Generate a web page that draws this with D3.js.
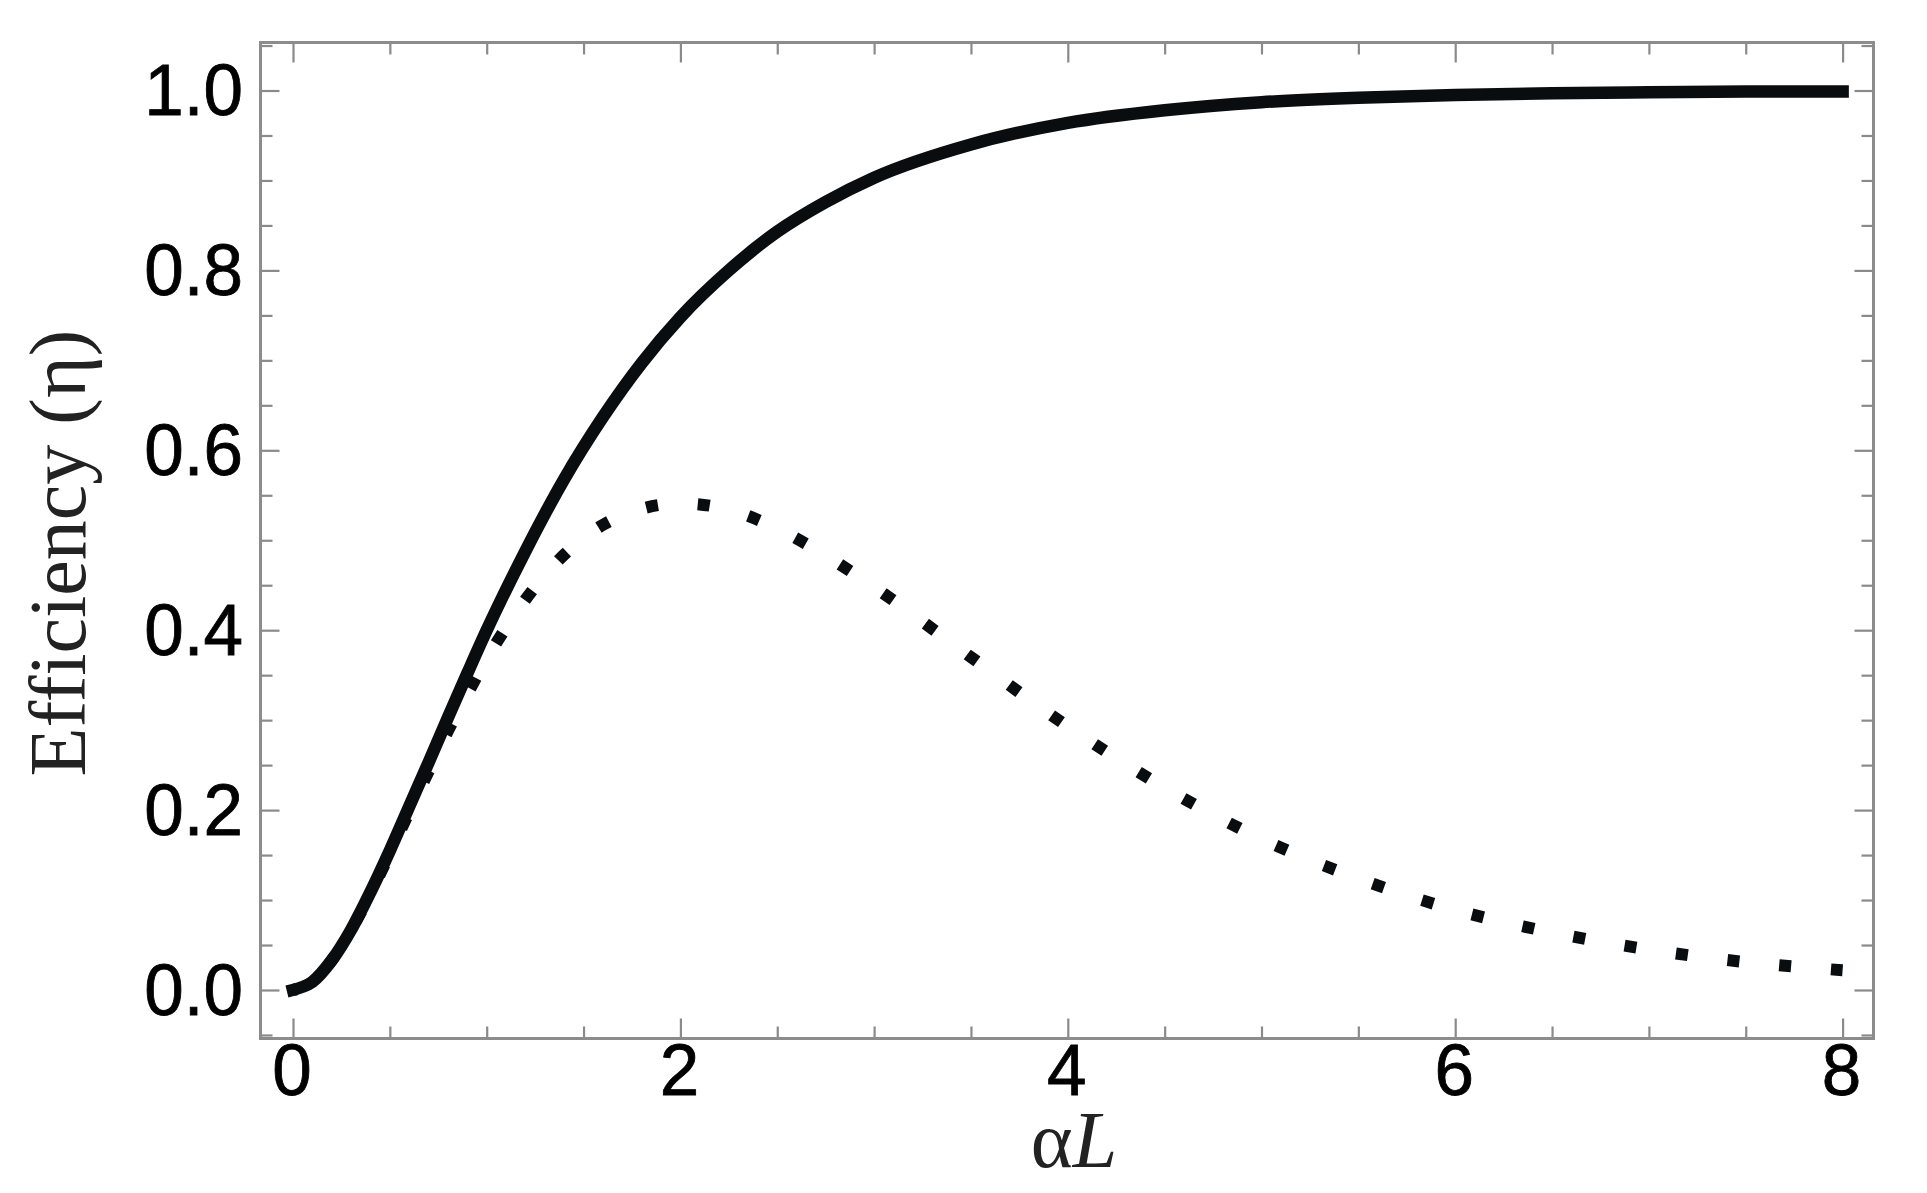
<!DOCTYPE html>
<html>
<head>
<meta charset="utf-8">
<script src="https://cdn.jsdelivr.net/npm/d3@7"></script>
<style>
  html, body { margin: 0; padding: 0; background: #fff; }
  svg { display: block; }
</style>
</head>
<body>
<svg id="chart" width="1927" height="1193"></svg>
<script>
// ---- data ----
const alphaL = [0, 0.1, 0.2, 0.3, 0.4, 0.5, 0.6, 0.7, 0.8, 0.9, 1.0, 1.2, 1.4, 1.6, 1.8, 2.0,
                2.25, 2.5, 2.75, 3.0, 3.5, 4.0, 4.5, 5.0, 5.5, 6.0, 6.5, 7.0, 7.5, 8.0];
const solidEta = [0, 0.009, 0.033, 0.067, 0.109, 0.155, 0.204, 0.253, 0.303, 0.352, 0.400, 0.488,
                  0.568, 0.637, 0.697, 0.748, 0.800, 0.843, 0.876, 0.903, 0.940, 0.964, 0.978,
                  0.987, 0.992, 0.995, 0.997, 0.998, 0.999, 0.999];
const dottedEta = [0, 0.009, 0.033, 0.067, 0.107, 0.152, 0.198, 0.243, 0.288, 0.329, 0.368, 0.434,
                   0.484, 0.517, 0.535, 0.541, 0.534, 0.513, 0.483, 0.448, 0.370, 0.293, 0.225,
                   0.168, 0.124, 0.089, 0.064, 0.045, 0.031, 0.022];
const xTickLabels = [0, 2, 4, 6, 8];
const yTickLabels = [0.0, 0.2, 0.4, 0.6, 0.8, 1.0];
const xLabel = "αL";
const yLabel = "Efficiency (η)";

// ---- layout ----
const svg = d3.select("#chart");
const frame = { left: 260.5, right: 1873.5, top: 42.5, bottom: 1038.5 };

const x = d3.scaleLinear().domain([0, 8]).range([293, 1842.6]);
const y = d3.scaleLinear().domain([0, 1]).range([990, 90.5]);

const frameColor = "#8c8c8c";
const tickColor = "#8a8a8a";

const xMinor = d3.range(0, 8.01, 0.5).filter(v => Math.abs(v / 2 - Math.round(v / 2)) > 1e-6);
const yMinor = d3.range(-0.05, 1.051, 0.05).filter(v => Math.abs(v / 0.2 - Math.round(v / 0.2)) > 1e-6);

const g = svg.append("g");

function styleAxis(sel) {
  sel.select(".domain").remove();
  sel.selectAll(".tick line").attr("stroke", tickColor).attr("stroke-width", 2.2);
}

const axes = [
  [d3.axisBottom(x).tickValues(xTickLabels).tickSize(-20), `translate(0,${frame.bottom})`],
  [d3.axisBottom(x).tickValues(xMinor).tickSize(-12), `translate(0,${frame.bottom})`],
  [d3.axisTop(x).tickValues(xTickLabels).tickSize(-20), `translate(0,${frame.top})`],
  [d3.axisTop(x).tickValues(xMinor).tickSize(-12), `translate(0,${frame.top})`],
  [d3.axisLeft(y).tickValues(yTickLabels).tickSize(-19), `translate(${frame.left},0)`],
  [d3.axisLeft(y).tickValues(yMinor).tickSize(-12), `translate(${frame.left},0)`],
  [d3.axisRight(y).tickValues(yTickLabels).tickSize(-19), `translate(${frame.right},0)`],
  [d3.axisRight(y).tickValues(yMinor).tickSize(-12), `translate(${frame.right},0)`]
];
axes.forEach(([ax, tr]) => {
  g.append("g").attr("transform", tr).call(ax.tickFormat("")).call(styleAxis);
});

// frame
g.append("rect")
  .attr("x", frame.left).attr("y", frame.top)
  .attr("width", frame.right - frame.left).attr("height", frame.bottom - frame.top)
  .attr("fill", "none").attr("stroke", frameColor).attr("stroke-width", 3);

// tick labels
const labelFont = "'Liberation Sans', Arial, Helvetica, sans-serif";
g.selectAll("text.xtl").data(xTickLabels).enter().append("text")
  .attr("class", "xtl")
  .attr("transform", d => `translate(${x(d) - 1},1095) scale(1,1.02)`)
  .attr("text-anchor", "middle")
  .attr("font-family", labelFont).attr("font-size", 71)
  .attr("fill", "#000").attr("stroke", "#000").attr("stroke-width", 0.8)
  .text(d => d3.format("d")(d));

g.selectAll("text.ytl").data(yTickLabels).enter().append("text")
  .attr("class", "ytl")
  .attr("transform", d => `translate(243,${y(d) + 24.5}) scale(1,1.02)`)
  .attr("text-anchor", "end")
  .attr("font-family", labelFont).attr("font-size", 71)
  .attr("fill", "#000").attr("stroke", "#000").attr("stroke-width", 0.8)
  .text(d => d3.format(".1f")(d));

// axis titles
const xt = g.append("text")
  .attr("transform", "translate(1074,1167)")
  .attr("text-anchor", "middle")
  .attr("font-family", "'Liberation Serif', 'Times New Roman', serif")
  .attr("font-size", 80)
  .attr("fill", "#222");
xt.append("tspan").text(xLabel.slice(0, 1));
xt.append("tspan").attr("font-style", "italic").text(xLabel.slice(1));

g.append("text")
  .attr("transform", "translate(85,553) rotate(-90)")
  .attr("text-anchor", "middle")
  .attr("font-family", "'Liberation Serif', 'Times New Roman', serif")
  .attr("font-size", 80)
  .attr("fill", "#222")
  .text(yLabel);

// curves
const solidData = alphaL.map((a, i) => [a, solidEta[i]]);
const dottedData = alphaL.map((a, i) => [a, dottedEta[i]]);
const line = d3.line().x(d => x(d[0])).y(d => y(d[1])).curve(d3.curveMonotoneX);

const dotted = g.append("path")
  .datum(dottedData)
  .attr("d", line)
  .attr("fill", "none")
  .attr("stroke", "#0a0d10")
  .attr("stroke-width", 12)
  .attr("stroke-linecap", "butt");

// place the square dots along the path so they line up with the reference
(function () {
  const node = dotted.node();
  const total = node.getTotalLength();
  function lengthAtX(px) {
    let lo = 0, hi = total;
    for (let k = 0; k < 40; k++) {
      const mid = (lo + hi) / 2;
      if (node.getPointAtLength(mid).x < px) lo = mid; else hi = mid;
    }
    return (lo + hi) / 2;
  }
  const dash = 12;
  const L1 = lengthAtX(x(2.12));
  const L2 = lengthAtX(x(7.97));
  const n = Math.round((L2 - L1) / 51);
  const p = (L2 - L1) / n;
  const start = L1 - dash / 2;
  const off = p - (((start % p) + p) % p);
  dotted.attr("stroke-dasharray", `${dash} ${p - dash}`).attr("stroke-dashoffset", off);
})();

g.append("path")
  .datum(solidData)
  .attr("d", line)
  .attr("fill", "none")
  .attr("stroke", "#0a0d10")
  .attr("stroke-width", 12.5)
  .attr("stroke-linecap", "square")
  .attr("stroke-linejoin", "round");
</script>
</body>
</html>
